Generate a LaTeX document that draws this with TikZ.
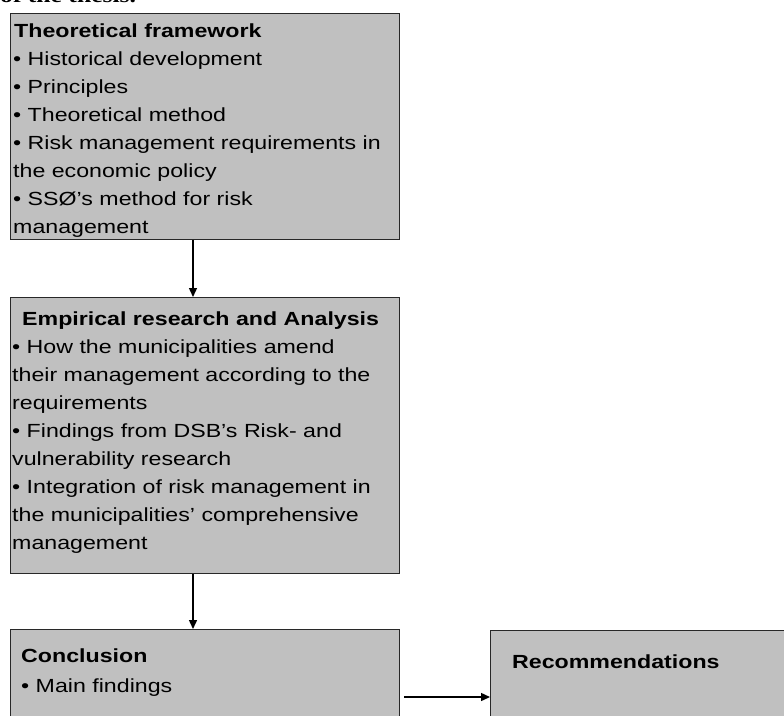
\documentclass[tikz,border=0pt]{standalone}
\usepackage{fontspec}
\setmainfont{Liberation Sans}
\newfontfamily\boxfont[FakeStretch=1.22]{Liberation Sans}
\newfontfamily\titlefont[FakeStretch=1.22]{Liberation Serif}
\usetikzlibrary{arrows.meta}
\definecolor{boxgray}{RGB}{192,192,192}
\definecolor{edgegray}{RGB}{40,40,40}
% a column of lines whose first baseline is the node's base
\newenvironment{stagelines}{\begin{tabular}[t]{@{}l@{}}}{\end{tabular}}

\begin{document}
\begin{tikzpicture}[x=1pt,y=-1pt,
  stage/.style={draw=edgegray, line width=1.3pt, fill=boxgray, inner sep=0pt,
                anchor=north west, rectangle},
  label/.style={font=\boxfont\fontsize{19}{28}\selectfont,
                anchor=base west, inner sep=0pt},
  flow/.style={line width=1.4pt, -{Triangle[length=9pt,width=8pt]}}]

% page frame
\path[clip] (0,0) rectangle (784,715);

% heading line running off the top of the page
\node[anchor=base west, inner sep=0pt, font=\titlefont\bfseries\fontsize{21}{24}\selectfont]
  (caption) at (0,2.5) {of the thesis.};

% stage boxes
\node[stage, minimum width=389pt, minimum height=226pt] (theory)    at (10,13)  {};
\node[stage, minimum width=389pt, minimum height=276pt] (empirical) at (10,297) {};
\node[stage, minimum width=389pt, minimum height=120pt] (concl)     at (10,629) {};
\node[stage, minimum width=320pt, minimum height=120pt] (recom)     at (490,630) {};

% box texts
\node[label] (theorytext) at (13,37) {\begin{stagelines}
  \hspace*{1pt}\textbf{Theoretical framework}\\
  • Historical development\\
  • Principles\\
  • Theoretical method\\
  • Risk management requirements in\\
  the economic policy\\
  • SSØ’s method for risk\\
  management
\end{stagelines}};

\node[label] (empiricaltext) at (12,325) {\begin{stagelines}
  \hspace*{10pt}\textbf{Empirical research and Analysis}\\
  • How the municipalities amend\\
  their management according to the\\
  requirements\\
  • Findings from DSB’s Risk- and\\
  vulnerability research\\
  • Integration of risk management in\\
  the municipalities’ comprehensive\\
  management
\end{stagelines}};

\node[label] (concltext) at (21,662) {\begin{stagelines}
  \textbf{Conclusion}\\[2pt]
  • Main findings
\end{stagelines}};

\node[label] (recomtext) at (512,668) {\textbf{Recommendations}};

% connectors
\coordinate (down) at (193,0);
\coordinate (across) at (0,697);
\draw[flow] (theory.south -| down) -- (empirical.north -| down);
\draw[flow] (empirical.south -| down) -- (concl.north -| down);
\draw[flow] ([xshift=4pt]concl.east |- across) -- (recom.west |- across);
\end{tikzpicture}
\end{document}
